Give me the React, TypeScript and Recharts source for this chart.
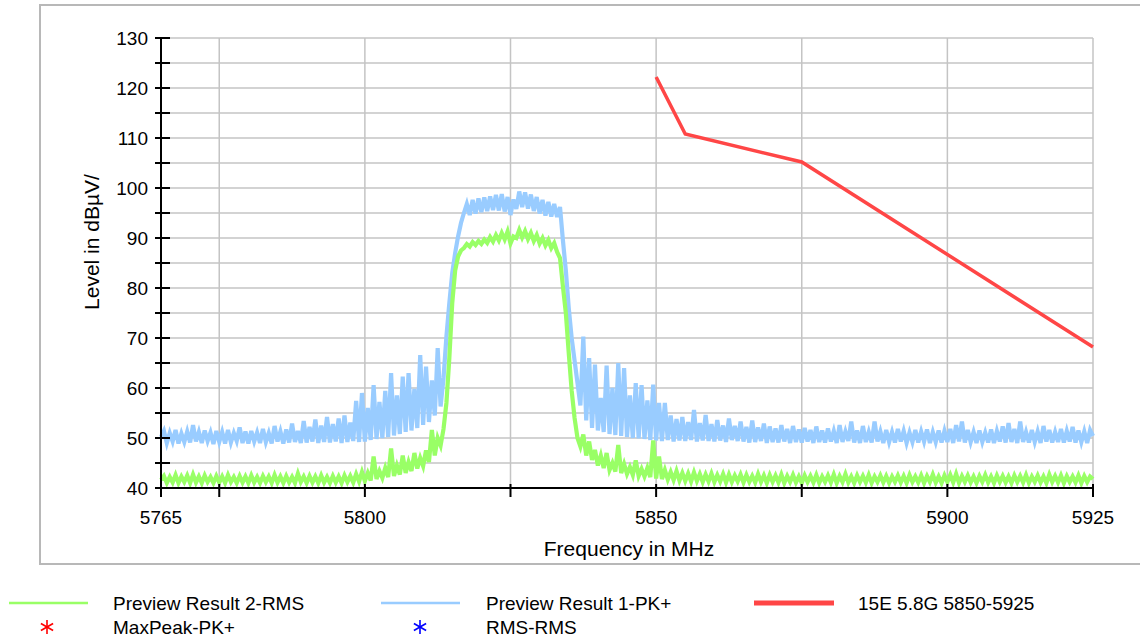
import { CartesianGrid, Legend, Line, LineChart, XAxis, YAxis } from "recharts";

const FONT = '"Liberation Sans", Arial, sans-serif';

// frequency grid of the two preview traces
const F0 = 5765;
const STEP = 0.5;

// Preview Result 1-PK+ (dBµV), one value every 0.5 MHz from 5765 to 5925
const PK = [
  50.2, 51.4, 49.0, 51.0, 49.3, 51.6, 48.9, 50.9, 49.2, 51.3,
  49.1, 52.6, 49.3, 51.2, 49.0, 51.5, 49.4, 51.1, 48.8, 51.4,
  49.2, 51.2, 48.9, 51.6, 49.1, 51.0, 49.4, 52.1, 49.0, 51.3,
  48.9, 51.4, 49.3, 51.1, 49.0, 51.8, 49.2, 51.0, 48.9, 52.4,
  49.3, 51.3, 48.9, 51.7, 49.1, 52.9, 49.2, 51.4, 49.0, 53.4,
  49.1, 52.2, 49.3, 53.7, 49.0, 52.5, 49.2, 54.2, 49.1, 52.8,
  49.3, 53.9, 49.0, 54.5, 49.2, 53.1, 49.4, 57.4, 49.2, 59.0,
  49.3, 56.0, 49.6, 60.6, 49.8, 57.2, 50.0, 59.4, 50.2, 63.0,
  50.5, 58.5, 50.8, 62.3, 51.2, 63.0, 51.5, 59.8, 52.0, 66.6,
  52.6, 64.3, 53.2, 61.5, 54.5, 68.0, 56.3, 62.0, 70.3, 77.0,
  83.0, 87.0, 90.3, 93.0, 95.0, 96.8, 94.6, 97.6, 94.9, 97.9,
  95.2, 98.1, 95.4, 98.3, 95.6, 98.6, 95.5, 98.8, 95.3, 98.2,
  94.6, 97.7, 95.8, 99.3, 96.2, 99.1, 95.9, 98.7, 95.4, 98.2,
  94.9, 97.6, 94.5, 97.2, 94.3, 96.8, 94.2, 96.2, 89.5, 83.5,
  76.0, 70.0, 65.5, 61.0, 56.5, 70.3, 53.5, 66.0, 52.0, 64.7,
  51.5, 58.0, 51.2, 64.5, 50.8, 60.0, 50.6, 65.0, 50.4, 64.0,
  50.2, 58.5, 50.0, 61.0, 49.9, 60.6, 49.8, 57.5, 49.6, 60.7,
  49.5, 57.0, 49.4, 57.0, 49.6, 54.5, 49.3, 53.8, 49.5, 54.2,
  49.4, 53.2, 49.6, 55.6, 49.3, 53.0, 49.5, 54.6, 49.4, 52.8,
  49.3, 53.6, 49.5, 52.5, 49.2, 53.9, 49.6, 52.4, 49.4, 53.3,
  49.3, 52.2, 49.1, 53.5, 49.2, 52.1, 49.4, 52.9, 49.0, 52.3,
  49.2, 51.9, 49.1, 52.6, 49.3, 51.8, 49.0, 52.4, 49.2, 51.7,
  49.1, 52.0, 49.3, 51.6, 49.0, 52.3, 49.2, 51.5, 49.1, 51.9,
  49.3, 51.4, 49.0, 52.6, 49.2, 51.3, 49.4, 53.3, 49.1, 51.5,
  49.0, 52.4, 49.2, 51.2, 49.1, 53.3, 49.3, 51.3, 49.0, 51.6,
  49.2, 51.2, 49.1, 51.8, 49.3, 51.4, 49.0, 51.1, 49.2, 51.6,
  49.1, 51.3, 49.3, 51.7, 49.0, 51.2, 49.2, 51.5, 49.1, 51.4,
  49.2, 51.8, 49.0, 52.6, 49.3, 53.3, 49.1, 51.6, 49.2, 51.2,
  49.0, 51.5, 49.2, 51.1, 49.1, 51.7, 49.0, 51.4, 49.3, 52.3,
  49.1, 53.0, 49.2, 51.8, 49.0, 53.3, 49.2, 51.2, 49.1, 51.6,
  49.2, 51.3, 49.0, 52.4, 49.3, 51.6, 49.1, 51.2, 49.2, 51.8,
  49.1, 51.4, 49.3, 52.2, 49.1, 51.5, 49.2, 51.3, 49.0, 51.6, 50.4,
];

// Preview Result 2-RMS (dBµV), same grid
const RMS = [
  41.6, 42.4, 41.0, 42.2, 41.1, 42.6, 41.0, 42.3, 41.2, 42.5,
  41.0, 42.7, 41.1, 42.3, 41.0, 42.5, 41.2, 42.2, 41.0, 42.4,
  41.1, 42.3, 41.0, 42.6, 41.2, 42.2, 41.0, 42.4, 41.1, 42.3,
  41.0, 42.5, 41.1, 42.2, 41.0, 42.4, 41.2, 42.3, 41.0, 42.6,
  41.1, 42.3, 41.0, 42.4, 41.1, 42.2, 41.0, 42.9, 41.2, 42.3,
  41.0, 42.4, 41.1, 42.3, 41.0, 42.5, 41.1, 42.2, 41.0, 42.4,
  41.1, 42.3, 41.0, 42.5, 41.2, 42.4, 41.1, 42.8, 41.3, 43.2,
  41.4, 43.0, 41.5, 46.3, 41.8, 43.4, 42.0, 44.0, 42.2, 47.9,
  42.4, 44.5, 42.7, 46.5, 43.0, 45.2, 43.4, 47.0, 43.9, 46.0,
  44.4, 47.5, 45.2, 51.6, 46.5, 50.0, 48.5, 51.8, 57.0, 66.0,
  77.0, 83.5, 86.3, 87.5, 88.0, 88.8, 88.3, 89.2, 88.6, 89.4,
  88.8, 89.7, 89.0, 90.2, 89.3, 90.6, 89.5, 91.0, 89.7, 91.3,
  88.9, 90.3, 90.0, 91.6, 90.1, 91.4, 89.8, 91.0, 89.4, 90.6,
  88.9, 90.0, 88.5, 89.6, 88.0, 89.0, 87.2, 86.0, 80.3, 75.0,
  67.0, 59.5, 54.0, 50.0, 48.3, 50.7, 46.5, 49.3, 45.6, 47.6,
  44.5, 46.5, 44.0, 47.0, 43.6, 45.0, 43.3, 48.6, 43.0, 44.8,
  42.8, 44.2, 42.6, 45.5, 42.4, 43.8, 42.3, 44.0, 42.2, 49.5,
  41.9, 46.3, 41.8, 43.6, 41.7, 43.2, 41.6, 43.4, 41.5, 43.0,
  41.4, 42.9, 41.3, 43.1, 41.4, 42.8, 41.2, 42.7, 41.3, 42.9,
  41.2, 42.6, 41.3, 42.8, 41.1, 42.7, 41.2, 42.5, 41.3, 42.7,
  41.1, 42.6, 41.2, 42.4, 41.1, 42.8, 41.2, 42.5, 41.0, 42.6,
  41.2, 42.5, 41.1, 42.7, 41.0, 42.4, 41.2, 42.6, 41.1, 42.3,
  41.0, 42.5, 41.2, 42.4, 41.1, 42.6, 41.0, 42.3, 41.2, 42.5,
  41.1, 42.7, 41.0, 42.4, 41.2, 42.8, 41.1, 42.3, 41.0, 42.5,
  41.2, 42.4, 41.1, 42.6, 41.0, 42.3, 41.2, 42.5, 41.1, 42.4,
  41.0, 42.3, 41.2, 42.5, 41.1, 42.4, 41.0, 42.6, 41.2, 42.3,
  41.1, 42.5, 41.0, 42.4, 41.2, 42.7, 41.1, 42.3, 41.0, 42.5,
  41.2, 42.6, 41.1, 42.8, 41.0, 42.4, 41.2, 42.5, 41.1, 42.3,
  41.0, 42.4, 41.2, 42.6, 41.1, 42.3, 41.0, 42.5, 41.2, 42.4,
  41.1, 42.3, 41.0, 42.5, 41.2, 42.4, 41.1, 42.6, 41.0, 42.3,
  41.2, 42.5, 41.1, 42.3, 41.0, 42.7, 41.2, 42.4, 41.1, 42.5,
  41.0, 42.4, 41.2, 42.3, 41.1, 42.5, 41.0, 42.4, 41.2, 42.3, 41.8,
];

// limit line 15E 5.8G 5850-5925
const LIMIT_F = [5850, 5855, 5875, 5925];
const LIMIT_V = [122.2, 110.8, 105.2, 68.2];

const X_TICKS = [5765, 5775, 5800, 5825, 5850, 5875, 5900, 5925];
const X_LABELS = [5765, 5800, 5850, 5900, 5925];
const Y_TICKS = [40, 45, 50, 55, 60, 65, 70, 75, 80, 85, 90, 95, 100, 105, 110, 115, 120, 125, 130];

const LEGEND_LABELS = [
  "Preview Result 2-RMS",
  "Preview Result 1-PK+",
  "15E 5.8G 5850-5925",
  "MaxPeak-PK+",
  "RMS-RMS",
];

const GREEN = "#99ff66";
const BLUE = "#99ccff";
const RED = "#ff4646";

const traceData = PK.map((pk, i) => ({ freq: F0 + i * STEP, pk, rms: RMS[i] }));
const limitData = LIMIT_F.map((freq, i) => ({ freq, limit: LIMIT_V[i] }));

function YTick({ x, y, payload }: any) {
  const ax = x + 10; // tickSize 6 + tickMargin 4
  const v = payload.value;
  return (
    <g>
      <line x1={ax - 6} x2={ax + 9} y1={y} y2={y} stroke="#000" strokeWidth={2} />
      {v % 10 === 0 && (
        <text x={ax - 13} y={y} dy={7} textAnchor="end" fontSize={19} fontFamily={FONT} fill="#000">
          {v}
        </text>
      )}
    </g>
  );
}

function XTick({ x, y, payload }: any) {
  const ay = y - 10;
  const v = payload.value;
  return (
    <g>
      <line x1={x} x2={x} y1={ay - 4} y2={ay + 9} stroke="#000" strokeWidth={2} />
      {X_LABELS.includes(v) && (
        <text x={x} y={ay + 36} textAnchor="middle" fontSize={19} fontFamily={FONT} fill="#000">
          {v}
        </text>
      )}
    </g>
  );
}

function Star({ cx, cy, color }: { cx: number; cy: number; color: string }) {
  const r = 7;
  const a = r * 0.87;
  const b = r * 0.5;
  return (
    <g stroke={color} strokeWidth={1.6}>
      <line x1={cx} x2={cx} y1={cy - r} y2={cy + r} />
      <line x1={cx - a} x2={cx + a} y1={cy - b} y2={cy + b} />
      <line x1={cx - a} x2={cx + a} y1={cy + b} y2={cy - b} />
    </g>
  );
}

function LegendBox() {
  const txt = { fontSize: 19, fontFamily: FONT, fill: "#000" };
  return (
    <svg width={1140} height={52}>
      <line x1={9} x2={88} y1={18} y2={18} stroke={GREEN} strokeWidth={2.5} />
      <text x={113} y={25} {...txt}>{LEGEND_LABELS[0]}</text>
      <line x1={381} x2={460} y1={18} y2={18} stroke={BLUE} strokeWidth={2.5} />
      <text x={486} y={25} {...txt}>{LEGEND_LABELS[1]}</text>
      <line x1={754} x2={834} y1={18} y2={18} stroke={RED} strokeWidth={5} />
      <text x={858} y={25} {...txt}>{LEGEND_LABELS[2]}</text>
      <Star cx={47} cy={42} color="#ff0000" />
      <text x={113} y={49} {...txt}>{LEGEND_LABELS[3]}</text>
      <Star cx={420} cy={42} color="#0000ff" />
      <text x={486} y={49} {...txt}>{LEGEND_LABELS[4]}</text>
    </svg>
  );
}

export default function App() {
  return (
    <div style={{ position: "absolute", left: 0, top: 0, width: 1140, height: 638, background: "#fff" }}>
      <div
        style={{
          position: "absolute",
          left: 39,
          top: 4,
          width: 1120,
          height: 557,
          border: "2px solid #b8b8b8",
        }}
      />
      <LineChart
        width={1140}
        height={638}
        data={traceData}
        margin={{ top: 38, right: 47, bottom: 90, left: 0 }}
      >
        <CartesianGrid stroke="#c4c4c4" strokeWidth={1.5} />
        <XAxis
          dataKey="freq"
          type="number"
          domain={[5765, 5925]}
          ticks={X_TICKS}
          interval={0}
          height={60}
          tickSize={6}
          tickMargin={4}
          tickLine={false}
          tick={<XTick />}
          axisLine={{ stroke: "#000", strokeWidth: 2 }}
          label={{
            content: () => (
              <text x={629} y={556} textAnchor="middle" fontSize={21} fontFamily={FONT} fill="#000">
                Frequency in MHz
              </text>
            ),
          }}
        />
        <YAxis
          type="number"
          domain={[40, 130]}
          ticks={Y_TICKS}
          interval={0}
          width={161}
          tickSize={6}
          tickMargin={4}
          tickLine={false}
          tick={<YTick />}
          axisLine={{ stroke: "#000", strokeWidth: 2 }}
          label={{
            content: () => (
              <text
                x={99}
                y={242}
                transform="rotate(-90 99 242)"
                textAnchor="middle"
                fontSize={21}
                fontFamily={FONT}
                fill="#000"
              >
                Level in dBµV/
              </text>
            ),
          }}
        />
        <Line
          dataKey="pk"
          type="linear"
          stroke={BLUE}
          strokeWidth={4.2}
          dot={false}
          activeDot={false}
          isAnimationActive={false}
        />
        <Line
          dataKey="rms"
          type="linear"
          stroke={GREEN}
          strokeWidth={4.2}
          dot={false}
          activeDot={false}
          isAnimationActive={false}
        />
        <Line
          data={limitData}
          dataKey="limit"
          type="linear"
          stroke={RED}
          strokeWidth={3.5}
          dot={false}
          activeDot={false}
          isAnimationActive={false}
        />
        <Legend
          layout="horizontal"
          verticalAlign="middle"
          align="center"
          content={() => <LegendBox />}
          wrapperStyle={{ left: 0, top: 585, width: 1140, height: 52 }}
        />
      </LineChart>
    </div>
  );
}
